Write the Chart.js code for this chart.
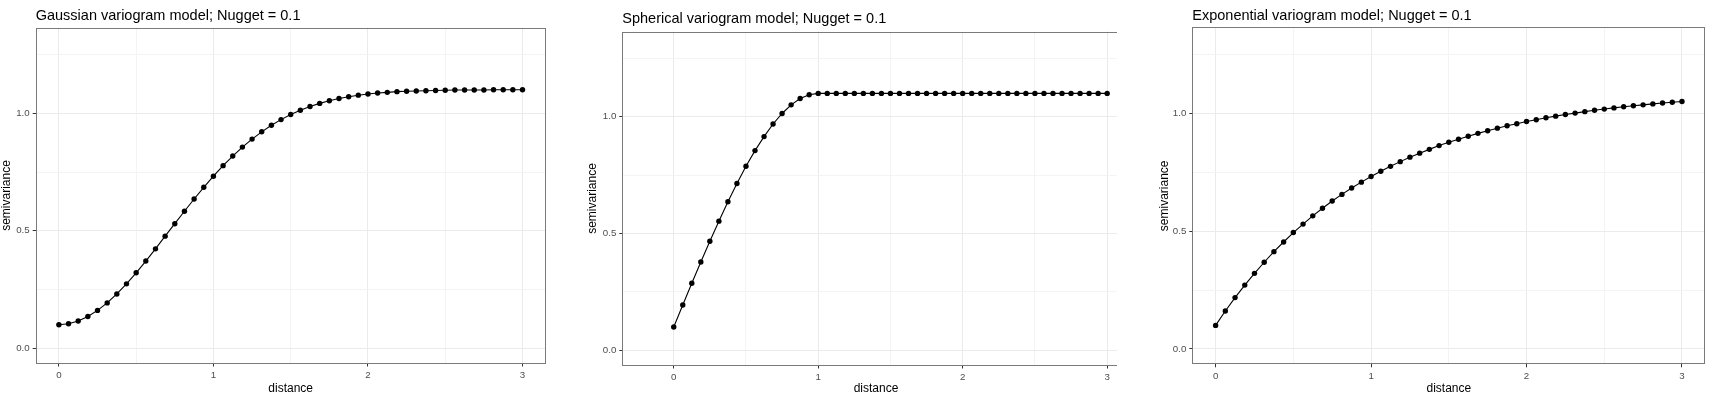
<!DOCTYPE html>
<html>
<head>
<meta charset="utf-8">
<script src="https://cdn.jsdelivr.net/npm/chart.js@4.4.1/dist/chart.umd.min.js"></script>
<style>
  html, body { margin: 0; padding: 0; background: #ffffff; width: 1720px; height: 396px; overflow: hidden; }
  canvas { position: absolute; top: 0; }
  #c1 { left: 0px; }
  #c2 { left: 570px; }
  #c3 { left: 1117px; background: #ffffff; }
</style>
</head>
<body>
<canvas id="c1" width="570" height="396"></canvas>
<canvas id="c2" width="570" height="396"></canvas>
<canvas id="c3" width="603" height="396"></canvas>
<script>
// ---------- data ----------
const distance = [0, 0.0625, 0.125, 0.1875, 0.25, 0.3125, 0.375, 0.4375, 0.5, 0.5625, 0.625, 0.6875,
  0.75, 0.8125, 0.875, 0.9375, 1, 1.0625, 1.125, 1.1875, 1.25, 1.3125, 1.375, 1.4375, 1.5, 1.5625,
  1.625, 1.6875, 1.75, 1.8125, 1.875, 1.9375, 2, 2.0625, 2.125, 2.1875, 2.25, 2.3125, 2.375, 2.4375,
  2.5, 2.5625, 2.625, 2.6875, 2.75, 2.8125, 2.875, 2.9375, 3];

const gaussianSemivariance = [0.100, 0.104, 0.116, 0.135, 0.161, 0.193, 0.231, 0.274, 0.321, 0.371,
  0.423, 0.477, 0.530, 0.583, 0.635, 0.685, 0.732, 0.777, 0.818, 0.856, 0.890, 0.921, 0.949, 0.973,
  0.995, 1.013, 1.029, 1.042, 1.053, 1.063, 1.070, 1.077, 1.082, 1.086, 1.089, 1.092, 1.094, 1.095,
  1.096, 1.097, 1.098, 1.099, 1.099, 1.099, 1.099, 1.100, 1.100, 1.100, 1.100];

const sphericalSemivariance = [0.100, 0.194, 0.287, 0.378, 0.467, 0.553, 0.636, 0.714, 0.788, 0.855,
  0.915, 0.969, 1.014, 1.051, 1.078, 1.094, 1.100, 1.100, 1.100, 1.100, 1.100, 1.100, 1.100, 1.100,
  1.100, 1.100, 1.100, 1.100, 1.100, 1.100, 1.100, 1.100, 1.100, 1.100, 1.100, 1.100, 1.100, 1.100,
  1.100, 1.100, 1.100, 1.100, 1.100, 1.100, 1.100, 1.100, 1.100, 1.100, 1.100];

const exponentialSemivariance = [0.100, 0.161, 0.218, 0.271, 0.321, 0.368, 0.413, 0.454, 0.494, 0.530,
  0.565, 0.597, 0.628, 0.656, 0.683, 0.708, 0.732, 0.754, 0.775, 0.795, 0.814, 0.831, 0.847, 0.863,
  0.877, 0.890, 0.903, 0.915, 0.926, 0.937, 0.947, 0.956, 0.965, 0.973, 0.981, 0.988, 0.995, 1.001,
  1.007, 1.013, 1.018, 1.023, 1.028, 1.032, 1.036, 1.040, 1.044, 1.047, 1.050];

const panelTitles = [
  "Gaussian variogram model; Nugget = 0.1",
  "Spherical variogram model; Nugget = 0.1",
  "Exponential variogram model; Nugget = 0.1"
];
const xAxisLabel = "distance";
const yAxisLabel = "semivariance";
const xMajorTicks = [0, 1, 2, 3];
const xMinorTicks = [0.5, 1.5, 2.5];
const yMajorTicks = [0, 0.5, 1.0];
const yMinorTicks = [0.25, 0.75, 1.25];

// ---------- styling / layout ----------
const FONT = '"Liberation Sans", Arial, Helvetica, sans-serif';
const isIn = (arr, v) => arr.some(t => Math.abs(t - v) < 1e-9);

const decor = {
  id: 'panelDecor',
  afterDatasetsDraw(chart, args, opts) {
    const { ctx, chartArea: a } = chart;
    ctx.save();
    ctx.strokeStyle = '#7a7a7a';
    ctx.lineWidth = 1;
    const l = Math.round(a.left) + 0.5, r = Math.round(a.right) - 0.5;
    const t = Math.round(a.top) + 0.5, b = Math.round(a.bottom) - 0.5;
    ctx.strokeRect(l, t, r - l, b - t);
    ctx.fillStyle = '#000000';
    ctx.font = '14.5px ' + FONT;
    ctx.textAlign = 'left';
    ctx.textBaseline = 'alphabetic';
    ctx.fillText(opts.text, a.left, opts.baseline);
    ctx.restore();
  }
};

function makeChart(id, title, values, g) {
  const points = distance.map((d, i) => ({ x: d, y: values[i] }));
  const xAll = [...xMajorTicks, ...xMinorTicks].sort((a, b) => a - b);
  const yAll = [...yMajorTicks, ...yMinorTicks].sort((a, b) => a - b);
  return new Chart(document.getElementById(id), {
    type: 'scatter',
    data: {
      datasets: [{
        data: points,
        showLine: true,
        borderColor: '#000000',
        borderWidth: 1.1,
        tension: 0,
        pointRadius: 2.7,
        pointHoverRadius: 2.7,
        pointBackgroundColor: '#000000',
        pointBorderWidth: 0
      }]
    },
    options: {
      responsive: false,
      animation: false,
      events: [],
      layout: { autoPadding: false, padding: { left: 0, top: g.top, right: g.padRight, bottom: 0 } },
      plugins: {
        legend: { display: false },
        tooltip: { enabled: false },
        panelDecor: { text: title, baseline: g.titleBaseline }
      },
      scales: {
        x: {
          type: 'linear',
          min: g.xMin, max: g.xMax,
          afterBuildTicks: s => { s.ticks = xAll.map(v => ({ value: v })); },
          afterFit: s => { s.height = g.xH; },
          ticks: {
            autoSkip: false, maxRotation: 0, padding: 3,
            color: '#4D4D4D', font: { family: FONT, size: 9.7 },
            callback: v => isIn(xMajorTicks, v) ? String(v) : ''
          },
          grid: {
            lineWidth: 1,
            color: c => isIn(xMajorTicks, c.tick.value) ? '#EBEBEB' : '#F4F4F4',
            drawTicks: true, tickLength: 3, tickWidth: 1,
            tickColor: c => isIn(xMajorTicks, c.tick.value) ? '#333333' : 'rgba(0,0,0,0)'
          },
          border: { display: false },
          title: {
            display: true, text: xAxisLabel, color: '#000000',
            font: { family: FONT, size: 12, lineHeight: 1 },
            padding: { top: 0, bottom: 1.5 }
          }
        },
        y: {
          type: 'linear',
          min: -0.065, max: 1.365,
          afterBuildTicks: s => { s.ticks = yAll.map(v => ({ value: v })); },
          afterFit: s => { s.width = g.yW; },
          ticks: {
            autoSkip: false, padding: 3,
            color: '#4D4D4D', font: { family: FONT, size: 9.7 },
            callback: v => isIn(yMajorTicks, v) ? Number(v).toFixed(1) : ''
          },
          grid: {
            lineWidth: 1,
            color: c => isIn(yMajorTicks, c.tick.value) ? '#EBEBEB' : '#F4F4F4',
            drawTicks: true, tickLength: 3, tickWidth: 1,
            tickColor: c => isIn(yMajorTicks, c.tick.value) ? '#333333' : 'rgba(0,0,0,0)'
          },
          border: { display: false },
          title: {
            display: true, text: yAxisLabel, color: '#000000',
            font: { family: FONT, size: 12, lineHeight: 1 },
            padding: { top: g.yTitlePad, bottom: 0 }
          }
        }
      }
    },
    plugins: [decor]
  });
}

makeChart('c1', panelTitles[0], gaussianSemivariance,
  { top: 27.5, padRight: 24.3, yW: 35.7, xH: 32.5, xMin: -0.15, xMax: 3.15, yTitlePad: 0.4, titleBaseline: 20 });
makeChart('c2', panelTitles[1], sphericalSemivariance,
  { top: 31.5, padRight: 10.3, yW: 52.3, xH: 30.5, xMin: -0.356, xMax: 3.156, yTitlePad: 17, titleBaseline: 23 });
makeChart('c3', panelTitles[2], exponentialSemivariance,
  { top: 27.3, padRight: 14.7, yW: 75.3, xH: 31.7, xMin: -0.15, xMax: 3.15, yTitlePad: 42, titleBaseline: 19.5 });
</script>
</body>
</html>
